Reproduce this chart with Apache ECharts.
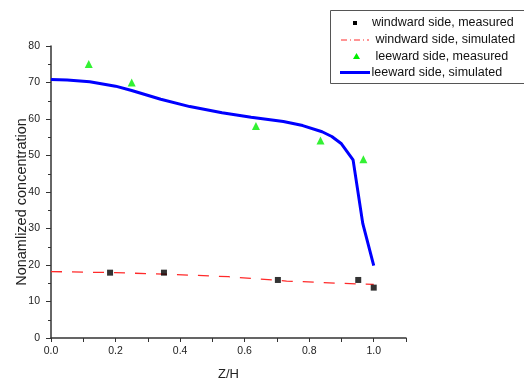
<!DOCTYPE html>
<html><head><meta charset="utf-8">
<script src="https://cdn.jsdelivr.net/npm/echarts@6/dist/echarts.min.js"></script>
<style>html,body{margin:0;padding:0;background:#fff}#c{width:524px;height:379px}</style>
</head><body><div id="c"></div>
<script>
var seriesNames = ['windward side, measured','windward side, simulated','leeward side, measured','leeward side, simulated'];
var windMeasured = [[0.183,17.9],[0.35,17.9],[0.703,15.9],[0.952,15.9],[1.0,13.8]];
var windSimulated = [[0,18.2],[0.2,17.9],[0.35,17.5],[0.55,16.8],[0.73,15.6],[0.95,14.8],[1.0,14.7]];
var leeMeasured = [[0.117,75.1],[0.25,70.0],[0.635,58.1],[0.835,54.1],[0.968,49.0]];
var leeSimulated = [[0,70.8],[0.05,70.7],[0.12,70.2],[0.2,69.0],[0.25,67.8],[0.34,65.4],[0.43,63.4],[0.53,61.7],[0.62,60.5],[0.72,59.3],[0.78,58.2],[0.84,56.5],[0.87,55.2],[0.9,53.2],[0.936,48.8],[0.966,31.4],[1.0,19.8]];
var xTicks = [0,0.2,0.4,0.6,0.8,1.0];

var chart = echarts.init(document.getElementById('c'));
var font = 'Liberation Sans, Arial, sans-serif';
var axisCol = '#333';
var legendRows = [23,40,56.5,72.5];
chart.setOption({
  animation:false,
  grid:{left:51,right:118,top:46,bottom:41,containLabel:false,outerBoundsMode:'none'},
  xAxis:{type:'value',min:0,max:1.1,interval:0.1,name:'Z/H',nameLocation:'middle',nameGap:30,
    nameTextStyle:{fontFamily:font,fontSize:13,color:'#222'},
    axisLine:{lineStyle:{color:axisCol,width:1.5}},
    axisTick:{length:4,lineStyle:{color:axisCol}},
    axisLabel:{fontFamily:font,fontSize:10.5,color:'#222',margin:8,
      formatter:function(v){var r=Math.round(v*10);return (r%2===0 && xTicks.indexOf(r/10)>=0)?(r/10).toFixed(1):'';}},
    splitLine:{show:false}},
  yAxis:{type:'value',min:0,max:80,interval:10,name:'Nonamlized concentration',nameLocation:'middle',nameGap:22,
    nameMoveOverlap:false,
    nameTextStyle:{fontFamily:font,fontSize:14.5,color:'#222',padding:[0,20,0,0]},
    axisLine:{show:true,lineStyle:{color:axisCol,width:1.5}},
    axisTick:{show:true,length:5,lineStyle:{color:axisCol}},
    minorTick:{show:true,splitNumber:2,length:3,lineStyle:{color:axisCol}},
    axisLabel:{fontFamily:font,fontSize:10.5,color:'#222',margin:11},
    splitLine:{show:false}},
  series:[
    {name:seriesNames[1],type:'line',data:windSimulated,showSymbol:false,symbol:'none',
      lineStyle:{color:'#ff2a2a',width:1.3,type:[11,10]},z:2},
    {name:seriesNames[3],type:'line',data:leeSimulated,showSymbol:false,symbol:'none',
      lineStyle:{color:'#0000ff',width:3},z:2},
    {name:seriesNames[0],type:'scatter',data:windMeasured,symbol:'rect',symbolSize:6,
      itemStyle:{color:'#000'},z:3},
    {name:seriesNames[2],type:'scatter',data:leeMeasured,symbol:'triangle',symbolSize:8,
      itemStyle:{color:'#00ee00'},z:3}
  ],
  graphic:[
    {type:'rect',shape:{x:330.5,y:10.5,width:200,height:73},style:{fill:'#fff',stroke:'#555',lineWidth:1},z:10},
    {type:'rect',shape:{x:353,y:legendRows[0]-2,width:4,height:4},style:{fill:'#000'},z:11},
    {type:'line',shape:{x1:341,y1:legendRows[1],x2:369,y2:legendRows[1]},style:{stroke:'#ff2a2a',lineWidth:1,lineDash:[6,3,1,3]},z:11},
    {type:'polygon',shape:{points:[[356.5,legendRows[2]-3.5],[360,legendRows[2]+2.5],[353,legendRows[2]+2.5]]},style:{fill:'#00ee00'},z:11},
    {type:'line',shape:{x1:340,y1:legendRows[3],x2:370,y2:legendRows[3]},style:{stroke:'#0000ff',lineWidth:3},z:11},
    {type:'text',x:372,y:legendRows[0],style:{text:seriesNames[0],font:'12.5px '+font,fill:'#111',verticalAlign:'middle'},z:11},
    {type:'text',x:375.5,y:legendRows[1],style:{text:seriesNames[1],font:'12.5px '+font,fill:'#111',verticalAlign:'middle'},z:11},
    {type:'text',x:375.5,y:legendRows[2],style:{text:seriesNames[2],font:'12.5px '+font,fill:'#111',verticalAlign:'middle'},z:11},
    {type:'text',x:371.5,y:legendRows[3],style:{text:seriesNames[3],font:'12.5px '+font,fill:'#111',verticalAlign:'middle'},z:11}
  ]
});
</script></body></html>
